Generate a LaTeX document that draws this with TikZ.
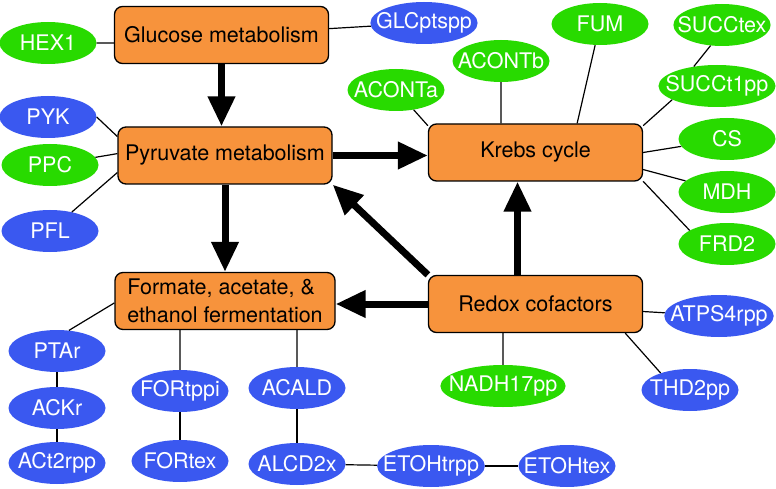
\documentclass[tikz,border=0pt]{standalone}
\usepackage{fontspec}
\setmainfont{TeX Gyre Heros}
\usepackage{tikz}
\usetikzlibrary{shapes.geometric, arrows.meta}
\definecolor{boxorange}{RGB}{247,147,60}
\definecolor{rxngreen}{RGB}{40,218,0}
\definecolor{rxnblue}{RGB}{58,88,240}

\begin{document}
\begin{tikzpicture}[x=1pt,y=-1pt,
  boxstyle/.style={rectangle,rounded corners=8pt,draw,line width=1.3pt,fill=boxorange,inner ysep=3pt,
    minimum width=214pt,minimum height=57pt,font=\fontsize{21.5}{28}\selectfont},
  rxnstyle/.style={ellipse,text=white,inner xsep=-10pt,inner ysep=3pt,
    minimum width=97pt,minimum height=42pt,font=\fontsize{21.5}{26}\selectfont},
  greenstyle/.style={rxnstyle,fill=rxngreen},
  bluestyle/.style={rxnstyle,fill=rxnblue},
  linkstyle/.style={line width=1.2pt},
  fluxstyle/.style={line width=7pt,-{Triangle[length=30pt,width=26pt]}}]
  \useasboundingbox (0,0) rectangle (776,489);

  \node [boxstyle] (glc)   at (221.5,35)  {Glucose metabolism};
  \node [boxstyle] (pyr)   at (225,155.5) {Pyruvate metabolism};
  \node [boxstyle] (krebs) at (535.5,152.5) {Krebs cycle};
  \node [boxstyle,minimum width=220pt,align=left] (ferm) at (225,301) {Formate, acetate, \&\\ethanol fermentation};
  \node [boxstyle] (redox) at (535.5,304) {Redox cofactors};

  \foreach \n/\x/\y/\t in {hex1/48/43/HEX1, ppc/50/165/PPC, aconta/396/90/ACONTa, acontb/501/61/ACONTb,
      fum/600/24/FUM, succtex/722/25/SUCCtex, succt1pp/717/86/SUCCt1pp, cs/727/139/CS,
      mdh/727/192/MDH, frd2/727/244/FRD2, nadh/503/386/NADH17pp}
    \node [greenstyle] (\n) at (\x,\y) {\t};

  \foreach \n/\x/\y/\t in {glcpts/424/23/GLCptspp, pyk/48/117/PYK, pfl/50/231/PFL, atps/719/316/ATPS4rpp,
      thd2/690/390/THD2pp, ptar/57/351/PTAr, ackr/57/408/ACKr, act2/57/463/ACt2rpp,
      fortppi/180/391/FORtppi, fortex/180/461/FORtex, acald/297/388/ACALD, alcd/297/464/ALCD2x,
      etohtrpp/431/466/ETOHtrpp, etohtex/567/466/ETOHtex}
    \node [bluestyle] (\n) at (\x,\y) {\t};

  \draw [linkstyle] (hex1) -- (glc.west |- hex1) (glc) -- (glcpts)
    (pyk.east) -- (pyr.170) (ppc) -- (pyr.179) (pfl) -- (pyr.189)
    (aconta) -- (krebs.166) (acontb) -- (acontb |- krebs.north) (fum) -- (krebs.35)
    (succtex.241) -- (succt1pp.140) (succt1pp.197) -- (krebs.14)
    (cs) -- (krebs.east) (mdh) -- (krebs.-9) (frd2.160) -- (krebs.-15)
    (atps) -- (redox.-4) (thd2.150) -- (redox.-18) (nadh) -- (nadh |- redox.south)
    (ptar.60) -- (ferm.181) (fortppi) -- (fortppi |- ferm.south) (acald) -- (acald |- ferm.south);
  \foreach \a/\b in {ptar/ackr, ackr/act2, fortppi/fortex, acald/alcd, alcd/etohtrpp, etohtrpp/etohtex}
    \draw [linkstyle] (\a) -- (\b);

  \draw [fluxstyle] (glc) -- (glc |- pyr.north);
  \draw [fluxstyle] (pyr) -- (pyr -| krebs.west);
  \draw [fluxstyle] (pyr) -- (pyr |- ferm.north);
  \draw [fluxstyle] ([xshift=-18pt]redox.north) -- ([xshift=-18pt]krebs.south);
  \draw [fluxstyle] (redox.north west) -- (pyr.south east);
  \draw [fluxstyle] (redox) -- (redox -| ferm.east);

\end{tikzpicture}
\end{document}
